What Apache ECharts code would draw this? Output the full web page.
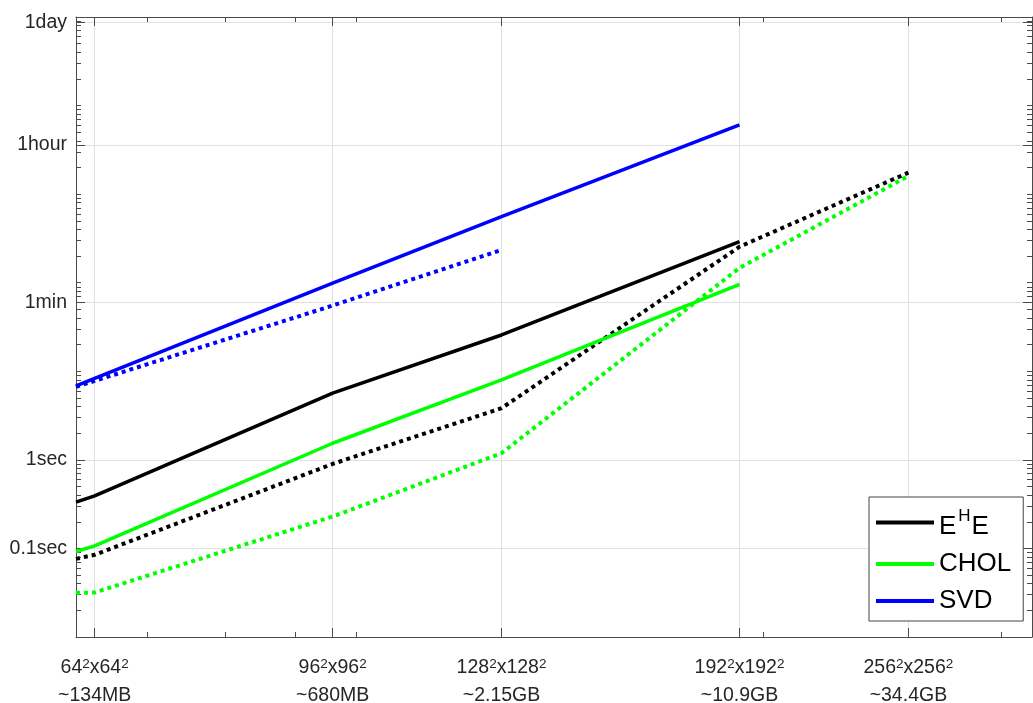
<!DOCTYPE html>
<html><head><meta charset="utf-8">
<script src="https://cdn.jsdelivr.net/npm/echarts@6/dist/echarts.min.js"></script>
<style>html,body{margin:0;padding:0;background:#fff}#c{width:1033px;height:703px}</style>
</head><body><div id="c"></div>
<script>
// ---- data ----
const sizes = [62, 64, 96, 128, 192, 256];            // N (grid side), x axis values
const eheSolid  = [0.333, 0.392, 5.66, 25.7, 291, null];
const eheDotted = [0.0763, 0.0847, 0.90, 3.83, 255, 1750];
const cholSolid = [0.0923, 0.107, 1.54, 8.0, 96, null];
const cholDotted= [0.0315, 0.0318, 0.229, 1.19, 147, 1604];
const svdSolid  = [6.84, 8.34, 98.7, 557, 6040, null];
const svdDotted = [6.67, 7.79, 55.2, 234, null, null];

const xTickValues = [64, 96, 128, 192, 256];
const xTickNames  = ['64', '96', '128', '192', '256'];
const xTickMem    = ['~134MB', '~680MB', '~2.15GB', '~10.9GB', '~34.4GB'];
const xMinorTicks = [70, 80, 90, 100, 200, 300];
const yTickValues = [0.1, 1, 60, 3600, 86400];
const yTickLabels = ['0.1sec', '1sec', '1min', '1hour', '1day'];
const yMinorMantissa = [1, 2, 3, 4, 5, 6, 7, 8, 9];
const yMinorDecades = [0.01, 0.1, 1, 10, 100, 1000, 10000];

const legendNames = ['E^HE', 'CHOL', 'SVD'];

// ---- build ----
const yMinorTicks = [];
yMinorDecades.forEach(d => yMinorMantissa.forEach(m => yMinorTicks.push(+(m * d).toPrecision(3))));
yMinorTicks.push(100000);

const FONT = '"Liberation Sans", Arial, Helvetica, sans-serif';
const AX = '#4a4a4a';
const TXT = '#262626';
const XMIN = 62, XMAX = 316, YMIN = 0.01, YMAX = 100000;

function pair(ys) { return sizes.map((x, i) => [x, ys[i]]).filter(p => p[1] != null); }
function nearestIdx(arr, v) {
  let bi = 0, bd = Infinity;
  arr.forEach((a, i) => { const d = Math.abs(Math.log(a) - Math.log(v)); if (d < bd) { bd = d; bi = i; } });
  return bi;
}

function xAxisDef(pos, ticks, len, main) {
  return {
    type: 'log', logBase: 2, min: XMIN, max: XMAX, position: pos,
    axisLine: { show: main, lineStyle: { color: AX, width: 1 } },
    axisTick: { show: true, inside: true, length: len, customValues: ticks, lineStyle: { color: AX, width: 1 } },
    axisLabel: main && pos === 'bottom' ? {
      show: true, customValues: xTickValues, margin: 20, color: TXT, fontFamily: FONT,
      formatter: v => { const i = nearestIdx(xTickValues, v); const n = xTickNames[i];
        return '{a|' + n + '}{s|2}{a|x' + n + '}{s|2}\n{b|' + xTickMem[i] + '}'; },
      rich: {
        a: { fontSize: 19.5, lineHeight: 22, fontFamily: FONT, color: TXT },
        s: { fontSize: 13.5, lineHeight: 9, verticalAlign: 'top', fontFamily: FONT, color: TXT },
        b: { fontSize: 19.5, lineHeight: 33, fontFamily: FONT, color: TXT }
      }
    } : { show: false },
    splitLine: { show: main && pos === 'bottom', lineStyle: { color: '#e0e0e0', width: 1 } },
    minorTick: { show: false }, minorSplitLine: { show: false }
  };
}
function yAxisDef(pos, ticks, len, main) {
  return {
    type: 'log', logBase: 10, min: YMIN, max: YMAX, position: pos,
    axisLine: { show: main, lineStyle: { color: AX, width: 1 } },
    axisTick: { show: true, inside: true, length: len, customValues: ticks, lineStyle: { color: AX, width: 1 } },
    axisLabel: main && pos === 'left' ? {
      show: true, customValues: yTickValues, margin: 9, color: TXT, fontSize: 19.5, fontFamily: FONT,
      formatter: v => yTickLabels[nearestIdx(yTickValues, v)]
    } : { show: false },
    splitLine: { show: main && pos === 'left', lineStyle: { color: '#e0e0e0', width: 1 } },
    minorTick: { show: false }, minorSplitLine: { show: false }
  };
}

function lineSeries(name, ys, color, dotted) {
  return {
    name, type: 'line', data: pair(ys), xAxisIndex: 0, yAxisIndex: 0,
    showSymbol: false, symbol: 'none', smooth: false, clip: true, silent: true,
    lineStyle: dotted ? { color, width: 4, type: [4, 4], cap: 'butt' } : { color, width: 3.5 },
    itemStyle: { color },
    z: dotted ? 2 : 3
  };
}

const chart = echarts.init(document.getElementById('c'), null, { renderer: 'canvas' });
chart.setOption({
  animation: false,
  backgroundColor: '#fff',
  grid: { left: 76, right: 1, top: 17, bottom: 66, containLabel: false, outerBoundsMode: 'none' },
  xAxis: [
    xAxisDef('bottom', xTickValues, 9, true),
    xAxisDef('bottom', xMinorTicks, 5, false),
    xAxisDef('top', xTickValues, 9, true),
    xAxisDef('top', xMinorTicks, 5, false)
  ],
  yAxis: [
    yAxisDef('left', yTickValues, 9, true),
    yAxisDef('left', yMinorTicks, 5, false),
    yAxisDef('right', yTickValues, 9, true),
    yAxisDef('right', yMinorTicks, 5, false)
  ],
  legend: {
    data: legendNames, orient: 'vertical', left: 869, top: 497,
    padding: [8, 12, 7, 7], itemGap: 11, itemWidth: 58, itemHeight: 4, icon: 'rect',
    backgroundColor: '#fff', borderColor: '#444', borderWidth: 1, borderRadius: 0,
    selectedMode: false,
    formatter: n => n === 'E^HE' ? '{e|E}{s|H}{e|E}' : '{b|' + n + '}',
    textStyle: {
      color: '#000', fontSize: 26, fontFamily: FONT,
      rich: {
        b: { fontSize: 26, lineHeight: 28, fontFamily: FONT, color: '#000' },
        e: { fontSize: 26, lineHeight: 28, padding: [9, 0, 0, 0], fontFamily: FONT, color: '#000' },
        s: { fontSize: 17, lineHeight: 29, verticalAlign: 'top', fontFamily: FONT, color: '#000', padding: [0, 1, 0, 2] }
      }
    }
  },
  series: [
    lineSeries('E^HE', eheSolid, '#000000', false),
    lineSeries('CHOL', cholSolid, '#00ff00', false),
    lineSeries('SVD', svdSolid, '#0000ff', false),
    lineSeries('E^HE dotted', eheDotted, '#000000', true),
    lineSeries('CHOL dotted', cholDotted, '#00ff00', true),
    lineSeries('SVD dotted', svdDotted, '#0000ff', true)
  ]
});
</script></body></html>
